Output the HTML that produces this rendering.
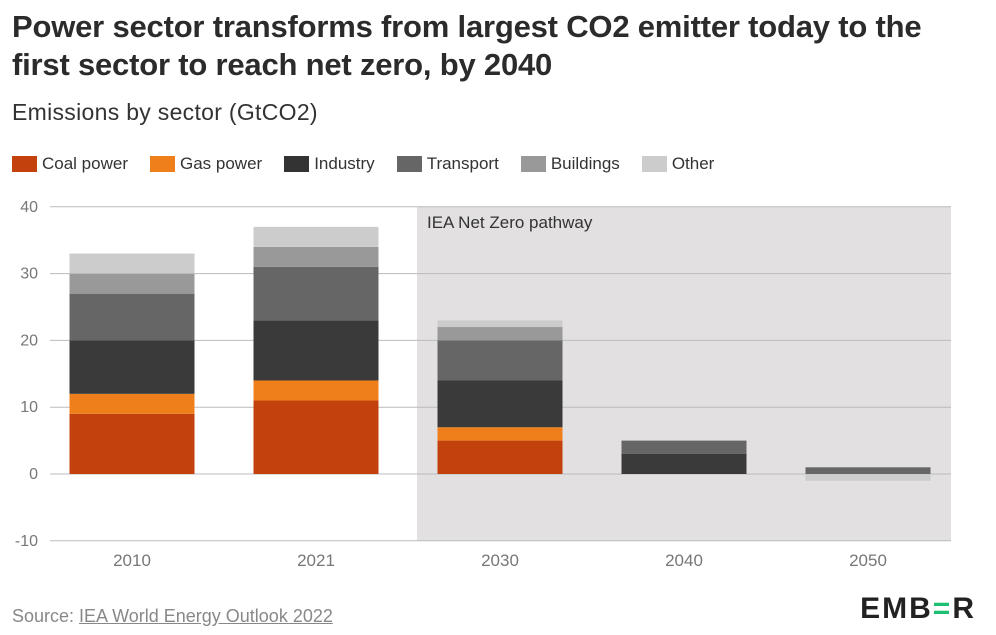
<!DOCTYPE html>
<html><head><meta charset="utf-8"><style>
body{margin:0;width:996px;height:635px;background:#fff;font-family:"Liberation Sans",sans-serif;color:#333;overflow:hidden;position:relative}
.t{position:absolute;left:12px;top:8px;font-size:31px;font-weight:bold;line-height:38px;color:#2b2b2b;letter-spacing:-0.2px}
.st{position:absolute;left:12px;top:99px;font-size:23px;color:#333;letter-spacing:0.3px}
.lg{position:absolute;top:154px;left:12px;display:flex;font-size:17px;color:#333}
.lg span{display:flex;align-items:center;margin-right:22px}
.lg i{display:inline-block;width:25px;height:16px;margin-right:5px}
.src{position:absolute;left:12px;top:606px;font-size:18px;color:#888}
.src u{color:#888}
.logo{position:absolute;right:20px;top:592px;font-size:30px;font-weight:bold;color:#222;letter-spacing:2px}
</style></head><body>
<div class="t">Power sector transforms from largest CO2 emitter today to the<br>first sector to reach net zero, by 2040</div>
<div class="st">Emissions by sector (GtCO2)</div>
<div class="lg">
<span><i style="background:#c2410c"></i>Coal power</span>
<span><i style="background:#ee7f1b"></i>Gas power</span>
<span><i style="background:#333"></i>Industry</span>
<span><i style="background:#666"></i>Transport</span>
<span><i style="background:#999"></i>Buildings</span>
<span><i style="background:#ccc"></i>Other</span>
</div>
<svg id="c" width="996" height="635" style="position:absolute;left:0;top:0"></svg>
<div class="src">Source: <u>IEA World Energy Outlook 2022</u></div>
<div class="logo">EMB<span style="color:#1dbf73">=</span>R</div>
<script>
const years=["2010","2021","2030","2040","2050"];
const coal=[9,11,5,0,0];
const gas=[3,3,2,0,0];
const industry=[8,9,7,3,0];
const transport=[7,8,6,2,1];
const buildings=[3,3,2,0,0];
const other=[3,3,1,0,-1];
const ticks=[-10,0,10,20,30,40];
const series=[[coal,"#c2410c"],[gas,"#ee7f1b"],[industry,"#3a3a3a"],[transport,"#666"],[buildings,"#999"],[other,"#ccc"]];
const NS="http://www.w3.org/2000/svg",svg=document.getElementById('c');
const L=50,R=951,y=v=>474-v*6.68;
const XL=40,XR=960,step=(XR-XL)/years.length,x=i=>XL+step*(i+0.5),bw=125;
function mk(t,a){const e=document.createElementNS(NS,t);for(const k in a)e.setAttribute(k,a[k]);svg.appendChild(e);return e;}
let sh=mk('rect',{x:417,y:y(40),width:R-417,height:y(-10)-y(40),fill:'#e2e0e0'});


let st=mk('text',{x:427,y:228,'font-size':17,fill:'#333','font-family':'Liberation Sans'});st.textContent='IEA Net Zero pathway';


ticks.forEach(t=>{let g=mk('line',{x1:L,x2:R,y1:y(t),y2:y(t),stroke:'#bbb','stroke-width':1});


let tx=mk('text',{x:38,y:y(t)+5,'text-anchor':'end','font-size':16,fill:'#777','font-family':'Liberation Sans'});tx.textContent=t;

});
years.forEach((yr,i)=>{let pos=0,neg=0;
series.forEach(([arr,c])=>{const v=arr[i];if(!v)return;let a,b;
if(v>0){a=pos;b=pos+v;pos=b;}else{a=neg+v;b=neg;neg=a;}
const r=mk('rect',{x:x(i)-bw/2,y:y(b),width:bw,height:y(a)-y(b),fill:c});

});
let tx=mk('text',{x:x(i),y:566,'text-anchor':'middle','font-size':17,fill:'#777','font-family':'Liberation Sans'});tx.textContent=yr;

});
</script>
</body></html>
